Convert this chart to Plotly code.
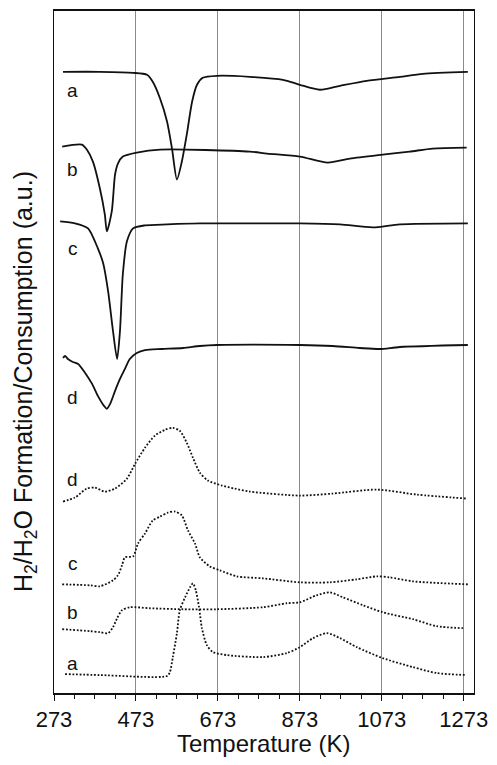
import plotly.graph_objects as go

# Temperatures (K) and signals (a.u.)
# Solid curves: H2 consumption (TPR)
a_sol_T = [295, 385, 466, 500, 514, 532, 549, 561, 573, 585, 597, 610, 622, 636, 671, 751, 832, 873, 922, 971, 1036, 1117, 1173, 1283]
a_sol_v = [62.3, 62.3, 62.2, 62.0, 61.3, 59.6, 57.3, 54.6, 51.5, 53.3, 56.0, 59.3, 61.0, 61.7, 61.9, 61.8, 61.5, 61.0, 60.5, 60.9, 61.4, 61.8, 62.1, 62.3]

b_sol_T = [293, 341, 353, 368, 385, 397, 402, 414, 422, 429, 441, 475, 532, 751, 793, 873, 941, 995, 1075, 1141, 1197, 1280]
b_sol_v = [54.8, 55.0, 54.5, 53.3, 50.6, 48.0, 46.3, 48.3, 52.0, 53.1, 53.8, 54.2, 54.5, 54.3, 54.1, 53.8, 53.2, 53.6, 54.0, 54.3, 54.6, 54.7]

c_sol_T = [288, 324, 356, 380, 393, 405, 417, 427, 434, 441, 451, 466, 495, 549, 629, 751, 873, 971, 1051, 1117, 1283]
c_sol_v = [47.3, 47.1, 46.6, 44.6, 43.1, 40.3, 36.3, 33.5, 36.3, 42.0, 45.3, 46.6, 46.9, 47.0, 47.1, 47.1, 47.1, 47.0, 46.7, 47.0, 47.1]

d_sol_T = [295, 300, 307, 319, 332, 349, 366, 380, 395, 402, 410, 422, 434, 446, 458, 475, 495, 536, 588, 629, 671, 873, 953, 1019, 1068, 1117, 1283]
d_sol_v = [33.6, 33.8, 33.5, 33.2, 33.0, 32.1, 31.0, 29.8, 28.8, 28.5, 29.0, 30.3, 31.5, 32.5, 33.5, 34.1, 34.4, 34.5, 34.6, 34.8, 34.9, 34.9, 34.8, 34.6, 34.5, 34.7, 34.9]

# Dotted curves: H2O formation
d_dot_T = [295, 324, 353, 373, 397, 422, 451, 471, 495, 519, 544, 563, 580, 597, 612, 629, 649, 683, 714, 751, 873, 953, 1061, 1158, 1280]
d_dot_v = [19.2, 19.6, 20.5, 20.6, 20.2, 20.5, 21.5, 23.0, 24.6, 25.8, 26.4, 26.6, 26.3, 25.1, 23.6, 22.1, 21.3, 20.8, 20.5, 20.2, 19.8, 20.0, 20.4, 19.9, 19.5]

c_dot_T = [293, 361, 385, 417, 429, 439, 446, 466, 478, 495, 514, 532, 551, 568, 585, 600, 617, 629, 653, 678, 719, 783, 873, 946, 1012, 1061, 1092, 1149, 1283]
c_dot_v = [10.9, 10.8, 10.7, 11.3, 11.8, 12.8, 13.6, 13.7, 15.0, 16.0, 17.3, 17.7, 18.1, 18.2, 17.8, 16.3, 15.0, 13.6, 12.7, 12.3, 11.7, 11.5, 11.1, 11.1, 11.4, 11.7, 11.6, 11.2, 10.9]

b_dot_T = [293, 361, 385, 405, 417, 427, 439, 458, 507, 588, 671, 783, 841, 873, 914, 946, 978, 1027, 1075, 1149, 1207, 1271]
b_dot_v = [6.4, 6.2, 6.1, 6.0, 6.6, 7.5, 8.3, 8.6, 8.5, 8.4, 8.4, 8.6, 9.0, 9.1, 9.8, 10.1, 9.6, 8.8, 8.1, 7.4, 6.7, 6.5]

a_dot_T = [300, 385, 549, 556, 563, 573, 580, 593, 605, 612, 619, 627, 634, 646, 661, 695, 783, 841, 873, 905, 939, 971, 1012, 1075, 1149, 1207, 1280]
a_dot_v = [1.9, 1.8, 1.7, 2.1, 3.6, 6.0, 8.3, 9.6, 10.6, 11.0, 10.3, 8.6, 6.5, 4.8, 4.1, 3.8, 3.6, 4.0, 4.6, 5.5, 6.0, 5.5, 4.6, 3.5, 2.6, 2.0, 1.8]

# Curve labels
label_text = ["a", "b", "c", "d", "d", "c", "b", "a"]
label_T = [319, 319, 319, 319, 319, 319, 319, 319]
label_v = [60.4, 52.5, 44.6, 29.6, 21.4, 13.0, 8.1, 3.0]

tick_vals = [273, 473, 673, 873, 1073, 1273]
tick_text = ["273", "473", "673", "873", "1073", "1273"]

FONT = "Liberation Sans, Arial, sans-serif"
INK = "#111111"

fig = go.Figure()
solid = [(a_sol_T, a_sol_v), (b_sol_T, b_sol_v), (c_sol_T, c_sol_v), (d_sol_T, d_sol_v)]
dotted = [(d_dot_T, d_dot_v), (c_dot_T, c_dot_v), (b_dot_T, b_dot_v), (a_dot_T, a_dot_v)]
for T, v in solid:
    fig.add_trace(go.Scatter(x=T, y=v, mode="lines",
                             line=dict(color=INK, width=1.8, shape="spline", smoothing=0.7),
                             showlegend=False, hoverinfo="skip"))
for T, v in dotted:
    fig.add_trace(go.Scatter(x=T, y=v, mode="lines",
                             line=dict(color=INK, width=1.8, dash="1.8px,1.8px", shape="spline", smoothing=0.7),
                             showlegend=False, hoverinfo="skip"))

for t, x, y in zip(label_text, label_T, label_v):
    fig.add_annotation(x=x, y=y, text=t, showarrow=False, xref="x", yref="y",
                       font=dict(family=FONT, size=19, color=INK))

fig.add_annotation(xref="paper", yref="paper", x=-0.069, y=0.456, textangle=-90,
                   xanchor="center", yanchor="middle",
                   text="H<sub>2</sub>/H<sub>2</sub>O Formation/Consumption (a.u.)",
                   showarrow=False, font=dict(family=FONT, size=25, color=INK))
fig.add_annotation(xref="paper", yref="paper", x=0.498, y=-0.074, xanchor="center", yanchor="middle",
                   text="Temperature (K)", showarrow=False,
                   font=dict(family=FONT, size=24, color=INK))

fig.update_layout(
    width=497, height=765,
    margin=dict(l=54, r=22, t=9, b=72),
    paper_bgcolor="white", plot_bgcolor="white",
    font=dict(family=FONT, color=INK),
)
fig.update_xaxes(range=[273, 1298], tickmode="array", tickvals=tick_vals, ticktext=tick_text,
                 tickfont=dict(family=FONT, size=22, color=INK),
                 ticks="outside", ticklen=6, tickwidth=1.2, tickcolor=INK,
                 minor=dict(dtick=50, tick0=273, ticks="outside", ticklen=4, tickcolor=INK, showgrid=False),
                 showgrid=True, gridcolor="#8a8a8a", gridwidth=1,
                 showline=True, linecolor=INK, linewidth=1.8, mirror=True, zeroline=False)
fig.update_yaxes(range=[0, 68.4], showticklabels=False, ticks="", showgrid=False,
                 showline=True, linecolor=INK, linewidth=1.4, mirror=True, zeroline=False)

fig.write_html("out.html")
